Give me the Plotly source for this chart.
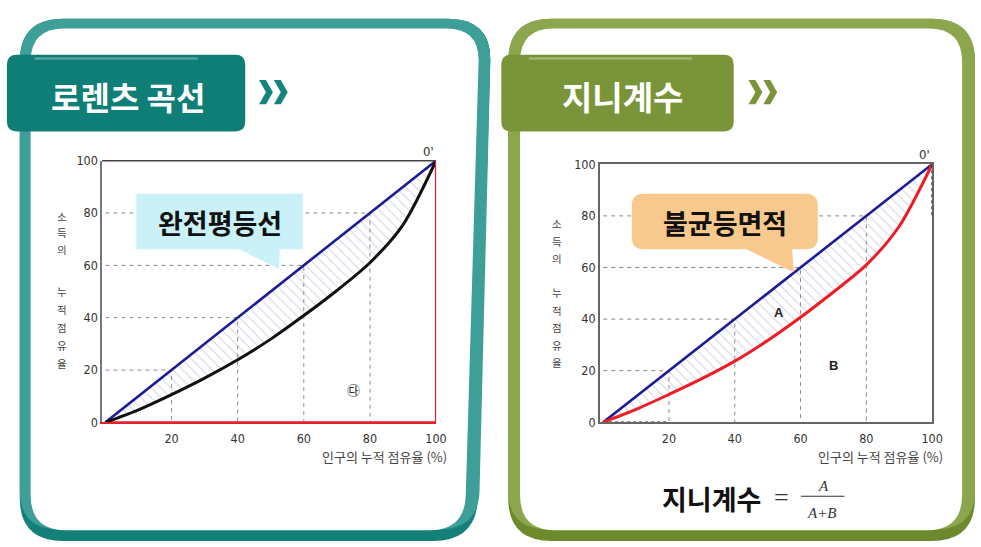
import math
import plotly.graph_objects as go

W, H = 981, 547

# ---------------- data ----------------
TICK_VALS_X = [20, 40, 60, 80, 100]
TICK_VALS_Y = [0, 20, 40, 60, 80, 100]
GRID_T = [20, 40, 60, 80]
EQ_X = [0, 100]
EQ_Y = [0, 100]
LZ_X = [0, 10, 20, 30, 40, 50, 60, 70, 80, 90, 100]
LZ_LEFT = [0, 4.8, 10.6, 16.9, 23.9, 31.8, 40.8, 50.4, 61, 75.5, 100]
LZ_RIGHT = [0, 5.0, 10.8, 16.9, 23.7, 31.7, 40.7, 50.5, 61, 76, 100]
INEQ_X = [0, 100, 100]
INEQ_Y = [0, 0, 100]
DOT_BOTTOM_X = [0, 20]
DOT_BOTTOM_Y = [0, 0]
DOT_RIGHT_X = [100, 100]
DOT_RIGHT_Y = [100, 80]

TITLE_LEFT = "로렌츠 곡선"
TITLE_RIGHT = "지니계수"
CALLOUT_LEFT = "완전평등선"
CALLOUT_RIGHT = "불균등면적"
X_TITLE = "인구의 누적 점유율 (%)"
Y_TITLE_TOP = ["소", "득", "의"]
Y_TITLE_BOTTOM = ["누", "적", "점", "유", "율"]

KR = "Noto Sans CJK KR, Noto Sans, sans-serif"
NUM = "Liberation Sans Narrow, DejaVu Sans Condensed, Liberation Sans, sans-serif"
SERIF = "Liberation Serif, DejaVu Serif, serif"


def px(x):
    return x / W


def py(y):
    return 1 - y / H


def P(x, y):
    return f"{x / W:.5f},{1 - y / H:.5f}"


def rpath(pts, radii):
    n = len(pts)
    segs = []
    for i in range(n):
        p = pts[i]
        prv = pts[i - 1]
        nxt = pts[(i + 1) % n]
        r = radii[i] if isinstance(radii, (list, tuple)) else radii
        if r == 0:
            a = p
            b = p
        else:
            dx, dy = prv[0] - p[0], prv[1] - p[1]
            L = math.hypot(dx, dy)
            a = (p[0] + dx / L * r, p[1] + dy / L * r)
            dx, dy = nxt[0] - p[0], nxt[1] - p[1]
            L = math.hypot(dx, dy)
            b = (p[0] + dx / L * r, p[1] + dy / L * r)
        segs.append((a, p, b, r))
    s = f"M {P(*segs[0][2])}"
    for i in range(1, n + 1):
        a, p, b, r = segs[i % n]
        s += f" L {P(*a)}"
        if r:
            s += f" Q {P(*p)} {P(*b)}"
    return s + " Z"


shapes = []


def fill_shape(path, color, layer="below"):
    shapes.append(dict(type="path", xref="paper", yref="paper", path=path,
                       fillcolor=color, line=dict(width=0), layer=layer))


# ---------------- frames ----------------
fill_shape(rpath([(20, 11), (497, 11), (482, 548), (20, 548)], [44, 44, 44, 44]), "#13817a")
fill_shape(rpath([(20, 11), (497, 11), (484, 536), (20, 536)], [44, 44, 40, 40]), "#3e9e98")
fill_shape(rpath([(31, 21), (485, 21), (470, 537), (31, 537)], [34, 34, 36, 36]), "#ffffff")
fill_shape(rpath([(514, 11), (986, 11), (986, 548), (514, 548)], [44, 44, 44, 44]), "#6c892b")
fill_shape(rpath([(514, 11), (986, 11), (986, 536), (514, 536)], [44, 44, 40, 40]), "#8ba64d")
fill_shape(rpath([(526, 21), (973, 21), (973, 537), (526, 537)], [34, 34, 36, 36]), "#ffffff")

fill_shape(rpath([(7, 48), (248, 48), (248, 127), (7, 127)], 10), "#0f7e76")
fill_shape(rpath([(507, 48), (742, 48), (742, 127), (507, 127)], 10), "#7a9539")
for x0, x1 in [(35, 200), (535, 700)]:
    shapes.append(dict(type="line", xref="paper", yref="paper", x0=px(x0), x1=px(x1),
                       y0=py(52), y1=py(52), line=dict(color="rgba(255,255,255,0.35)", width=2),
                       layer="below"))


def chevron(x, y, color):
    pts = [(x, y), (x + 7, y), (x + 14, y + 12.5), (x + 7, y + 25), (x, y + 25), (x + 7, y + 12.5)]
    fill_shape(rpath(pts, 0), color)


for dx in (0, 15):
    chevron(262 + dx, 74, "#12857c")
    chevron(757 + dx, 74, "#7a9539")

fill_shape(rpath([(138, 191), (306, 191), (306, 248), (283, 248), (282, 268), (242, 248), (138, 248)], 0),
           "#c9f1f7", layer="above")
fill_shape(rpath([(639, 191), (827, 191), (827, 248), (801, 248), (803, 272), (755, 248), (639, 248)],
                 [12, 12, 12, 0, 0, 0, 12]), "#f8c98c", layer="above")

shapes.append(dict(type="line", xref="x domain", yref="y domain", x0=0, x1=1, y0=1, y1=1,
                   line=dict(color="#444444", width=1.5)))
shapes.append(dict(type="line", xref="x", yref="y", x0=INEQ_X[1], x1=INEQ_X[2],
                   y0=INEQ_Y[1], y1=INEQ_Y[2], line=dict(color="#e3202b", width=2.2), layer="above"))
shapes.append(dict(type="line", xref="x2", yref="y2", x0=DOT_RIGHT_X[0], x1=DOT_RIGHT_X[1],
                   y0=DOT_RIGHT_Y[0], y1=DOT_RIGHT_Y[1],
                   line=dict(color="#222222", width=1.5, dash="dot"), layer="above"))

shapes.append(dict(type="line", xref="paper", yref="paper", x0=px(810), x1=px(854),
                   y0=py(502), y1=py(502), line=dict(color="#333333", width=1.2)))

fig = go.Figure()

HATCH = dict(shape="\\", fgcolor="#a4aac4", bgcolor="rgba(255,255,255,0)", size=7, solidity=0.15)


def add_panel(xa, ya, lz, curve_color, right_panel):
    fig.add_trace(go.Scatter(x=LZ_X, y=lz, mode="lines", line=dict(width=0, shape="spline", smoothing=0.8),
                             xaxis=xa, yaxis=ya, hoverinfo="skip"))
    fig.add_trace(go.Scatter(x=EQ_X, y=EQ_Y, mode="lines", line=dict(width=0), fill="tonexty",
                             fillcolor="rgba(0,0,0,0)", fillpattern=HATCH,
                             xaxis=xa, yaxis=ya, hoverinfo="skip"))
    for t in GRID_T:
        fig.add_trace(go.Scatter(x=[0, t, t], y=[t, t, 0], mode="lines",
                                 line=dict(color="#8a8a8a", width=1, dash="4px,4px"),
                                 xaxis=xa, yaxis=ya, hoverinfo="skip"))
    if right_panel:
        fig.add_trace(go.Scatter(x=DOT_BOTTOM_X, y=DOT_BOTTOM_Y, mode="lines",
                                 line=dict(color="#222222", width=1.5, dash="dot"),
                                 xaxis=xa, yaxis=ya, hoverinfo="skip"))
    else:
        fig.add_trace(go.Scatter(x=INEQ_X, y=INEQ_Y, mode="lines",
                                 line=dict(color="#e3202b", width=2),
                                 xaxis=xa, yaxis=ya, hoverinfo="skip"))
    fig.add_trace(go.Scatter(x=EQ_X, y=EQ_Y, mode="lines", line=dict(color="#1c1c96", width=2.6),
                             xaxis=xa, yaxis=ya, hoverinfo="skip"))
    fig.add_trace(go.Scatter(x=LZ_X, y=lz, mode="lines",
                             line=dict(color=curve_color, width=3, shape="spline", smoothing=0.8),
                             xaxis=xa, yaxis=ya, hoverinfo="skip"))


add_panel("x", "y", LZ_LEFT, "#111111", False)
add_panel("x2", "y2", LZ_RIGHT, "#ee1c24", True)

tickfont = dict(family=NUM, size=12.5, color="#333333")


def xaxis(d0, d1, anchor, linecolor, linewidth, mirror):
    return dict(domain=[px(d0), px(d1)], range=[-1, 100], tickvals=TICK_VALS_X,
                ticktext=[str(v) for v in TICK_VALS_X], showgrid=False, zeroline=False,
                showline=True, linecolor=linecolor, linewidth=linewidth, mirror=mirror,
                ticks="", tickfont=tickfont, anchor=anchor, fixedrange=True,
                ticklabelstandoff=4)


def yaxis(d0, d1, anchor, linecolor, mirror):
    return dict(domain=[py(d1), py(d0)], range=[0, 100], tickvals=TICK_VALS_Y,
                ticktext=[str(v) for v in TICK_VALS_Y], showgrid=False, zeroline=False,
                showline=True, linecolor=linecolor, linewidth=1.5, mirror=mirror,
                ticks="", tickfont=tickfont, anchor=anchor, fixedrange=True)


annotations = []


def ann(x, y, text, size, color="#222222", family=KR, xanchor="center", yanchor="middle",
        xref="paper", yref="paper", bold=False, italic=False):
    if bold:
        text = f"<b>{text}</b>"
    if italic:
        text = f"<i>{text}</i>"
    annotations.append(dict(x=px(x) if xref == "paper" else x, y=py(y) if yref == "paper" else y,
                            xref=xref, yref=yref, text=text, showarrow=False,
                            xanchor=xanchor, yanchor=yanchor,
                            font=dict(family=family, size=size, color=color)))


ann(129, 90, TITLE_LEFT, 32, "#ffffff", bold=True)
ann(630, 90, TITLE_RIGHT, 33, "#ffffff", bold=True)
ann(222, 221, CALLOUT_LEFT, 27, "#111111", bold=True)
ann(733, 221, CALLOUT_RIGHT, 27, "#111111", bold=True)
ann(454, 461, X_TITLE, 13, "#444444", xanchor="right")
ann(956, 461, X_TITLE, 13, "#444444", xanchor="right")
for ch, y in zip(Y_TITLE_TOP + Y_TITLE_BOTTOM, [214, 231, 248, 291, 310, 329, 347, 366]):
    ann(63, y, ch, 10.5, "#444444")
for ch, y in zip(Y_TITLE_TOP + Y_TITLE_BOTTOM, [222, 240, 258, 293, 311, 329, 347, 365]):
    ann(563, y, ch, 10.5, "#444444")
ann(100, 100, "0'", 13, "#333333", family=NUM, xanchor="right", yanchor="bottom", xref="x", yref="y")
ann(100, 100, "0'", 13, "#333333", family=NUM, xanchor="right", yanchor="bottom", xref="x2", yref="y2")
ann(75, 12.5, "㉰", 13, "#333333", xref="x", yref="y")
ann(53.5, 42.5, "A", 13, "#222222", family="Liberation Sans, sans-serif", xref="x2", yref="y2", bold=True)
ann(70, 22, "B", 13, "#222222", family="Liberation Sans, sans-serif", xref="x2", yref="y2", bold=True)
ann(720, 504, "지니계수", 27, "#111111", bold=True)
ann(790, 503, "=", 26, "#333333", family=SERIF)
ann(833, 491, "A", 15, "#333333", family=SERIF, italic=True)
ann(831, 519, "A+B", 15, "#333333", family=SERIF, italic=True)

fig.update_layout(
    width=W, height=H, autosize=False,
    margin=dict(l=0, r=0, t=0, b=0, pad=0),
    paper_bgcolor="#ffffff", plot_bgcolor="rgba(0,0,0,0)",
    showlegend=False,
    xaxis=xaxis(103.3, 441, "y", "#e3202b", 2, False),
    yaxis=yaxis(157, 426, "x", "#777777", False),
    xaxis2=xaxis(606.7, 942.7, "y2", "#666666", 1.5, True),
    yaxis2=yaxis(160.7, 426, "x2", "#666666", True),
    shapes=shapes,
    annotations=annotations,
)

fig.write_html(
    "out.html",
    config={"displayModeBar": False, "responsive": False},
    post_script=(
        "document.documentElement.style.margin='0';"
        "document.documentElement.style.overflow='hidden';"
        "document.body.style.margin='0';document.body.style.padding='0';"
        "document.body.style.overflow='hidden';"
        "var gd=document.getElementById('{plot_id}');"
        "gd.style.position='fixed';gd.style.left='0px';gd.style.top='0px';"
        "gd.style.width='981px';gd.style.height='547px';"
        "Plotly.relayout(gd,{width:981,height:547});"
    ),
)
